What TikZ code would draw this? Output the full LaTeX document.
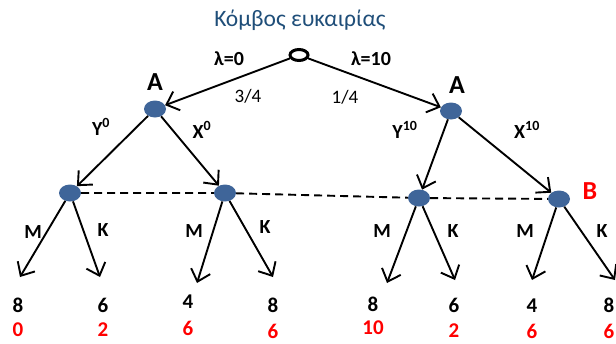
\documentclass[tikz,border=0pt]{standalone}
\usepackage{fontspec}
\setmainfont{Carlito}
\usetikzlibrary{arrows.meta,shapes.geometric}
\definecolor{nodeblue}{RGB}{63,101,153}
\definecolor{titleblue}{RGB}{31,78,121}
\definecolor{payred}{RGB}{255,0,0}
\begin{document}
\begin{tikzpicture}[x=1pt,y=-1pt,
  dec/.style={shape=ellipse,fill=nodeblue,minimum width=22pt,minimum height=17pt,inner sep=0pt},
  chance/.style={shape=ellipse,draw=black,fill=white,line width=3pt,minimum width=18pt,minimum height=11pt,inner sep=0pt},
  edge/.style={line width=1.9pt,-{Straight Barb[length=11pt,width=20pt,line width=1.9pt]}},
  info/.style={line width=1.9pt,dash pattern=on 8pt off 5pt},
  lbl/.style={font=\bfseries\fontsize{20}{22}\selectfont,inner sep=0pt},
  prob/.style={font=\fontsize{19}{21}\selectfont,inner sep=0pt},
  big/.style={font=\bfseries\fontsize{26}{28}\selectfont,inner sep=0pt},
  pay/.style={font=\bfseries\fontsize{21}{23}\selectfont,inner sep=0pt},
  payr/.style={pay,text=payred}]
\useasboundingbox (0,0) rectangle (616,343);
\clip (0,0) rectangle (616,343);
% title
\node[font=\fontsize{23.5}{26}\selectfont,text=titleblue] (title) at (300,20) {Κόμβος ευκαιρίας};
% nodes
\node[dec] (A1) at (155,109) {};
\node[dec] (A2) at (451,111) {};
\node[dec] (n1) at (70,193) {};
\node[dec] (n2) at (225,193) {};
\node[dec] (n3) at (419,198) {};
\node[dec] (n4) at (559,199) {};
\node[chance] (root) at (299,55) {};
% labels of players
\node[big] (lA1) at (155,82) {A};
\node[big] (lA2) at (457,85) {A};
\node[big,text=payred] (lB) at (590,191) {B};
% information set
\draw[info] (n1) -- (n2) -- (n3) -- (n4);
% edges
\draw[edge] (root) -- (A1);
\draw[edge] (root) -- (A2);
\draw[edge] (A1) -- (n1);
\draw[edge] (A1) -- (n2);
\draw[edge] (A2) -- (n3);
\draw[edge] (A2) -- (n4);
\node[lbl] (lam0) at (229,59) {λ=0};
\node[lbl] (lam10) at (371,59) {λ=10};
\node[prob] (p1) at (248,96) {3/4};
\node[prob] (p2) at (345,97) {1/4};
\node[lbl] (y0) at (101,127) {Y\textsuperscript{0}};
\node[lbl] (x0) at (202,130) {X\textsuperscript{0}};
\node[lbl] (y10) at (405,130) {Y\textsuperscript{10}};
\node[lbl] (x10) at (527,130) {X\textsuperscript{10}};
% leaves
\coordinate (l1) at (20,277);
\coordinate (l2) at (100,277);
\coordinate (l3) at (197,283);
\coordinate (l4) at (273,277);
\coordinate (l5) at (387,283);
\coordinate (l6) at (455,280);
\coordinate (l7) at (532,280);
\coordinate (l8) at (615,280);
\draw[edge] (n1) -- (l1);
\draw[edge] (n1) -- (l2);
\draw[edge] (n2) -- (l3);
\draw[edge] (n2) -- (l4);
\draw[edge] (n3) -- (l5);
\draw[edge] (n3) -- (l6);
\draw[edge] (n4) -- (l7);
\draw[edge] (n4) -- (l8);
\node[lbl] (m1) at (33,232) {M};
\node[lbl] (k1) at (103,230) {K};
\node[lbl] (m2) at (194,231) {M};
\node[lbl] (k2) at (265,227) {K};
\node[lbl] (m3) at (382,231) {M};
\node[lbl] (k3) at (453,231) {K};
\node[lbl] (m4) at (525,231) {M};
\node[lbl] (k4) at (602,231) {K};
% payoffs
\node[pay] (a1) at (18,305) {8};
\node[payr] (b1) at (18,330) {0};
\node[pay] (a2) at (103,305) {6};
\node[payr] (b2) at (103,330) {2};
\node[pay] (a3) at (188,302) {4};
\node[payr] (b3) at (188,328) {6};
\node[pay] (a4) at (273,305) {8};
\node[payr] (b4) at (273,331) {6};
\node[pay] (a5) at (373,304) {8};
\node[payr] (b5) at (373,328) {10};
\node[pay] (a6) at (454,305) {6};
\node[payr] (b6) at (454,331) {2};
\node[pay] (a7) at (532,306) {4};
\node[payr] (b7) at (532,331) {6};
\node[pay] (a8) at (609,305) {8};
\node[payr] (b8) at (609,331) {6};
\end{tikzpicture}
\end{document}
